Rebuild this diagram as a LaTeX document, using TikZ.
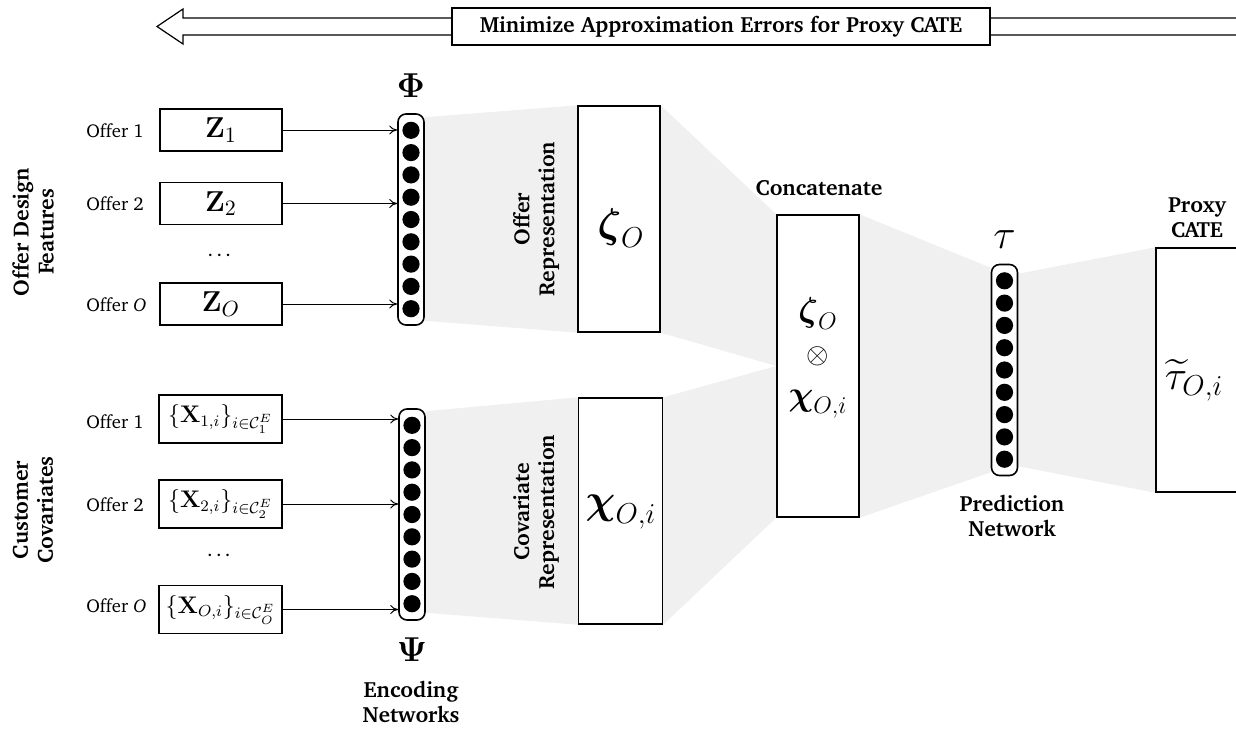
\documentclass[tikz,border=0pt]{standalone}
\usepackage[T1]{fontenc}
\usepackage{charter}
\usepackage{amsmath}
\usetikzlibrary{calc,arrows.meta,backgrounds}
\begin{document}
\begin{tikzpicture}[x=0.5pt,y=-0.5pt,
  box/.style={draw, line width=0.7pt, fill=white, inner sep=0pt},
  colm/.style={draw, line width=0.8pt, rounded corners=4pt, minimum width=13pt, minimum height=105.5pt, inner sep=0pt, fill=white},
  neuron/.style={circle, fill=black, minimum size=8.6pt, inner sep=0pt},
  offer/.style={font=\fontsize{9.3}{11}\selectfont, anchor=west, inner sep=0pt},
  lab/.style={font=\fontsize{11}{12.5}\selectfont\bfseries, align=center, inner sep=0pt},
  shade/.style={fill=black!6},
  conn/.style={-{To[length=4pt,width=4.5pt]}, line width=0.5pt},
  zbox/.style={box, minimum width=61pt, minimum height=21pt, font=\fontsize{15}{17}\selectfont},
  xbox/.style={box, minimum width=61.5pt, minimum height=24pt, font=\fontsize{11.5}{13}\selectfont},
  big/.style={font=\huge, inner sep=0pt}
]
\useasboundingbox (0,0) rectangle (1236,728);
\clip (0,0) rectangle (1236,728);

% top banner arrow
\draw[line width=0.6pt, fill=white] (1260,18) -- (183,18) -- (183,9) -- (157,26.5) -- (183,44) -- (183,35) -- (1260,35);
\node[box, minimum width=269pt, minimum height=18.5pt, font=\fontsize{11}{13}\selectfont\bfseries] (banner) at (721,26.5) {Minimize Approximation Errors for Proxy CATE};

% side labels
\node[lab, rotate=90] (odf) at (33,232) {Offer Design\\Features};
\node[lab, rotate=90] (cc) at (33,510) {Customer\\Covariates};

% offer design inputs
\node[offer] (o1) at (86,131) {Offer 1};
\node[offer] (o2) at (86,204) {Offer 2};
\node[offer] (oO) at (86,305) {Offer \textit{O}};
\node[zbox] (z1) at (221,130) {$\mathbf{Z}_1$};
\node[zbox] (z2) at (221,203.5) {$\mathbf{Z}_2$};
\node (zd) at (221,256) {\dots};
\node[zbox] (zO) at (221,304) {$\mathbf{Z}_O$};

% covariate inputs
\node[offer] (c1) at (86,422) {Offer 1};
\node[offer] (c2) at (86,505) {Offer 2};
\node[offer] (cO) at (86,606) {Offer \textit{O}};
\node[xbox] (x1) at (220.5,419) {$\{\mathbf{X}_{1,i}\}_{i\in\mathcal{C}_1^E}$};
\node[xbox] (x2) at (220.5,504) {$\{\mathbf{X}_{2,i}\}_{i\in\mathcal{C}_2^E}$};
\node (xd) at (220.5,556) {\dots};
\node[xbox] (xO) at (220.5,609.5) {$\{\mathbf{X}_{O,i}\}_{i\in\mathcal{C}_O^E}$};

% encoding columns
\node[colm] (phi) at (411,219.5) {};
\node[colm] (psi) at (412,514.5) {};
\node[colm] (tau) at (1004.5,370) {};
\foreach \c in {phi,psi,tau}{
  \foreach \k in {1,...,9}{
    \node[neuron] (\c-\k) at ($(\c.center)+(0,{(\k-5)*22.3})$) {};
  }
}
\node[font=\fontsize{19}{21}\selectfont, inner sep=0pt] (phil) at (411,86) {$\boldsymbol{\Phi}$};
\node[font=\fontsize{19}{21}\selectfont, inner sep=0pt] (psil) at (412,650) {$\boldsymbol{\Psi}$};
\node[big] (taul) at (1004.5,240) {$\tau$};
\node[lab] (enc) at (411,702) {Encoding\\Networks};
\node[lab] (pred) at (1012,516) {Prediction\\Network};

% arrows into encoders
\foreach \b in {z1,z2,zO}{\draw[conn] (\b.east) -- (\b.east -| phi.west);}
\foreach \b in {x1,x2,xO}{\draw[conn] (\b.east) -- (\b.east -| psi.west);}

% representation boxes
\node[box, minimum width=41pt, minimum height=113pt] (offer) at (619,219) {};
\node[big] (zeta) at (621,228) {$\boldsymbol{\zeta}_O$};
\node[lab, rotate=90] (orl) at (536,219) {Offer\\Representation};
\node[box, minimum width=42pt, minimum height=113pt] (cov) at (620.5,511) {};
\node[big] (chi) at (621,512) {$\boldsymbol{\chi}_{O,i}$};
\node[lab, rotate=90] (crl) at (536,512) {Covariate\\Representation};

% concatenate
\node[box, minimum width=41pt, minimum height=151pt] (concat) at (818,366) {};
\node[lab] (catl) at (819,188) {Concatenate};
\node[font=\LARGE, align=center, inner sep=0pt] (catv) at (818,358) {$\boldsymbol{\zeta}_O$\\[-1pt]{\Large$\otimes$}\\[-1pt]$\boldsymbol{\chi}_{O,i}$};

% proxy
\node[box, minimum width=80pt, minimum height=122pt] (proxy) at (1236,370) {};
\node[big] (tt) at (1194,380) {$\widetilde{\tau}_{O,i}$};
\node[lab] (pcl) at (1197,218) {Proxy\\CATE};

% shading
\begin{scope}[on background layer]
\fill[shade] ([yshift=-2pt]phi.north east) -- (offer.north west) -- (offer.south west) -- ([yshift=2.5pt]phi.south east) -- cycle;
\fill[shade] ([yshift=-1.5pt]psi.north east) -- (cov.north west) -- (cov.south west) -- ([yshift=4pt]psi.south east) -- cycle;
\fill[shade] (offer.north east) -- (concat.north west) -- (concat.west) -- (offer.south east) -- cycle;
\fill[shade] (cov.north east) -- (concat.west) -- (concat.south west) -- (cov.south east) -- cycle;
\fill[shade] (concat.north east) -- ([yshift=-2pt]tau.north west) -- ([yshift=2pt]tau.south west) -- (concat.south east) -- cycle;
\fill[shade] ([yshift=-5pt]tau.north east) -- (proxy.north west) -- (proxy.south west) -- ([yshift=5pt]tau.south east) -- cycle;
\end{scope}
\end{tikzpicture}
\end{document}
